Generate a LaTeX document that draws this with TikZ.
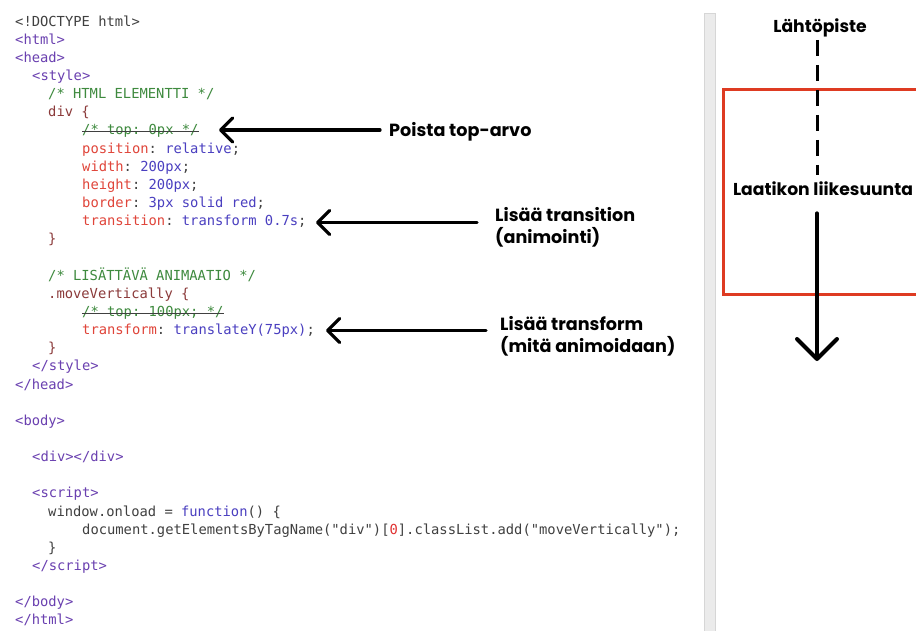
\documentclass[tikz,border=0pt]{standalone}
\usepackage{fontspec}
\setmainfont{Poppins}
\setmonofont{DejaVu Sans Mono}
\usetikzlibrary{arrows.meta}
\definecolor{ctag}{HTML}{6A40B0}
\definecolor{ccom}{HTML}{3E8A3E}
\definecolor{csel}{HTML}{8B3A3A}
\definecolor{cprop}{HTML}{E0453A}
\definecolor{cval}{HTML}{4A3FC0}
\definecolor{cpun}{HTML}{404040}
\definecolor{cnum}{HTML}{E03030}
\definecolor{cbox}{HTML}{DE3B22}
\definecolor{cbar}{HTML}{EBEBEB}
\definecolor{cbaredge}{HTML}{D6D6D6}
\newcommand{\cTg}[1]{\textcolor{ctag}{#1}}
\newcommand{\cCm}[1]{\textcolor{ccom}{#1}}
\newcommand{\cSl}[1]{\textcolor{csel}{#1}}
\newcommand{\cPr}[1]{\textcolor{cprop}{#1}}
\newcommand{\cVl}[1]{\textcolor{cval}{#1}}
\begin{document}
\begin{tikzpicture}[x=1pt,y=-1pt,
  codeline/.style={anchor=base west, inner sep=0pt, text=cpun,
    font=\ttfamily\fontsize{13.8}{16}\selectfont},
  anntext/.style={anchor=base west, inner sep=0pt, align=left,
    font=\bfseries\fontsize{17.6}{22}\selectfont},
  boxtext/.style={anchor=base, inner sep=0pt,
    font=\bfseries\fontsize{17.2}{22}\selectfont},
  annarrow/.style={line width=3.3pt, line cap=round,
    -{Straight Barb[length=12pt,width=24pt,round]}},
  bigarrow/.style={line width=4pt, line cap=round,
    -{Straight Barb[length=20pt,width=40pt,round]}},
  dashline/.style={line width=3pt, dash pattern=on 16pt off 9pt},
  strike/.style={line width=1pt, draw=cpun}
]
\useasboundingbox (0,0) rectangle (916,630);
\clip (0,0) rectangle (916,630);
\fill[white] (0,0) rectangle (916,630);

% ---------- code ----------
\node[codeline] (l1)  at (15,26)     {<!DOCTYPE html>};
\node[codeline] (l2)  at (15,44.15)  {\cTg{<html>}};
\node[codeline] (l3)  at (15,62.3)   {\cTg{<head>}};
\node[codeline] (l4)  at (32,80.45)  {\cTg{<style>}};
\node[codeline] (l5)  at (48,98.6)   {\cCm{/* HTML ELEMENTTI */}};
\node[codeline] (l6)  at (48,116.75) {\cSl{div \{}};
\node[codeline] (l7)  at (82,134.9)  {\cCm{/* top: 0px */}};
\node[codeline] (l8)  at (82,153.05) {\cPr{position}: \cVl{relative};};
\node[codeline] (l9)  at (82,171.2)  {\cPr{width}: \cVl{200px};};
\node[codeline] (l10) at (82,189.35) {\cPr{height}: \cVl{200px};};
\node[codeline] (l11) at (82,207.5)  {\cPr{border}: \cVl{3px solid red};};
\node[codeline] (l12) at (82,225.65) {\cPr{transition}: \cVl{transform 0.7s};};
\node[codeline] (l13) at (48,243.8)  {\cSl{\}}};
\node[codeline] (l15) at (48,280.1)  {\cCm{/* LISÄTTÄVÄ ANIMAATIO */}};
\node[codeline] (l16) at (48,298.25) {\cSl{.moveVertically \{}};
\node[codeline] (l17) at (82,316.4)  {\cCm{/* top: 100px; */}};
\node[codeline] (l18) at (82,334.55) {\cPr{transform}: \cVl{translateY(75px)};};
\node[codeline] (l19) at (48,352.7)  {\cSl{\}}};
\node[codeline] (l20) at (32,370.85) {\cTg{</style>}};
\node[codeline] (l21) at (15,389)    {\cTg{</head>}};
\node[codeline] (l23) at (15,425.3)  {\cTg{<body>}};
\node[codeline] (l25) at (32,461.6)  {\cTg{<div></div>}};
\node[codeline] (l27) at (32,497.9)  {\cTg{<script>}};
\node[codeline] (l28) at (48,516.05) {window.onload = \cVl{function}() \{};
\node[codeline] (l29) at (82,534.2)  {document.getElementsByTagName("div")[\textcolor{cnum}{0}].classList.add("moveVertically");};
\node[codeline] (l30) at (48,552.35) {\}};
\node[codeline] (l31) at (32,570.5)  {\cTg{</script>}};
\node[codeline] (l33) at (15,606.8)  {\cTg{</body>}};
\node[codeline] (l34) at (15,624.95) {\cTg{</html>}};

% strike-throughs
\draw[strike] ([yshift=3pt]l7.base west) -- ([yshift=3pt]l7.base east);
\draw[strike] ([yshift=3pt]l17.base west) -- ([yshift=3pt]l17.base east);

% ---------- annotations ----------
\node[anntext] (t1) at (389,136) {Poista top-arvo};
\node[anntext] (t2) at (495,243) {Lisää transition\\(animointi)};
\node[anntext] (t3) at (500,352) {Lisää transform\\(mitä animoidaan)};

\coordinate (a1) at (219,130);
\coordinate (a2) at (316,222.5);
\coordinate (a3) at (326,330.5);
\draw[annarrow, shorten <=9pt]  (t1.west |- a1) -- (a1);
\draw[annarrow, shorten <=18pt] (t2.west |- a2) -- (a2);
\draw[annarrow, shorten <=14pt] (t3.west |- a3) -- (a3);

% ---------- divider bar ----------
\path[fill=cbar, draw=cbaredge, line width=1pt] (704,13) rectangle (715,640);

% ---------- right panel ----------
\draw[cbox, line width=3pt] (723,89.5) rectangle (940,294);

\node[boxtext] (lahto) at (820,32) {Lähtöpiste};
\node[boxtext] (liike) at (823,195) {Laatikon liikesuunta};
\coordinate (vx) at (817,0);
\coordinate (tip) at (817,361);
\draw[dashline, shorten <=3pt, shorten >=6pt] (lahto.south -| vx) -- (liike.north -| vx);
\draw[bigarrow, shorten <=18pt] (liike.south -| vx) -- (tip);
\end{tikzpicture}
\end{document}
